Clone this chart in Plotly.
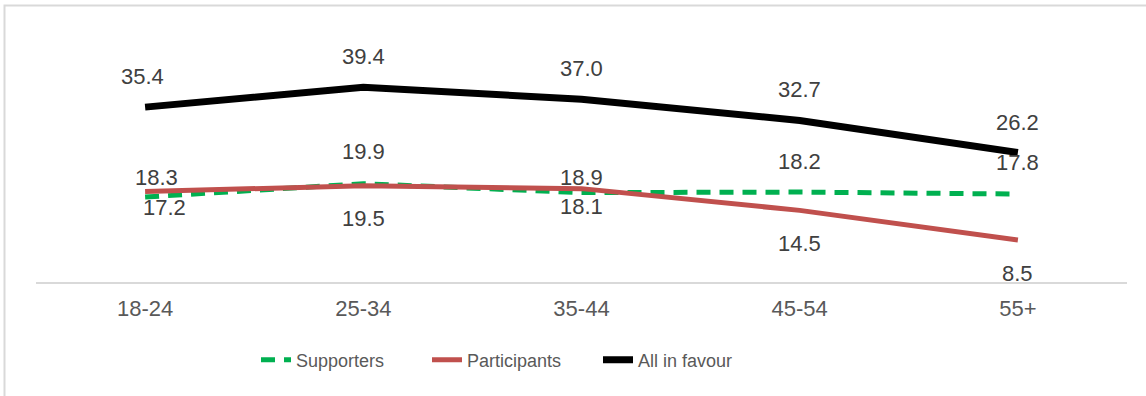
import plotly.graph_objects as go

categories = ["18-24", "25-34", "35-44", "45-54", "55+"]
supporters = [17.2, 19.9, 18.1, 18.2, 17.8]
participants = [18.3, 19.5, 18.9, 14.5, 8.5]
all_in_favour = [35.4, 39.4, 37.0, 32.7, 26.2]

# label offsets (pixels): (xshift, yshift)
sup_off = [(19, -10), (0, 32), (0, -14), (0, 31), (0, 32)]
par_off = [(11, 14), (0, -33), (0, 11), (0, -33), (0, -33)]
all_off = [(-3, 31), (0, 31), (0, 31), (0, 31), (0, 30)]

GREEN = "#00B050"
RED = "#C0504D"
BLACK = "#000000"
LABEL = "#404040"
TICK = "#595959"
FONT = "Liberation Sans, Arial, sans-serif"

fig = go.Figure()
fig.add_trace(go.Scatter(x=categories, y=supporters, mode="lines", name="Supporters",
                         line=dict(color=GREEN, width=5, dash="14px,9px")))
fig.add_trace(go.Scatter(x=categories, y=participants, mode="lines", name="Participants",
                         line=dict(color=RED, width=5)))
fig.add_trace(go.Scatter(x=categories, y=all_in_favour, mode="lines", name="All in favour",
                         line=dict(color=BLACK, width=7)))

anns = []
for vals, offs in ((supporters, sup_off), (participants, par_off), (all_in_favour, all_off)):
    for c, v, (dx, dy) in zip(categories, vals, offs):
        anns.append(dict(x=c, y=v, xref="x", yref="y", text=f"{v:.1f}", showarrow=False,
                         xshift=dx, yshift=dy,
                         font=dict(family=FONT, size=22, color=LABEL)))

L, R, T, B = 36, 19, 35, 114
W, H = 1146, 396
pw, ph = W - L - R, H - T - B

fig.update_layout(
    width=W, height=H,
    margin=dict(l=L, r=R, t=T, b=B),
    paper_bgcolor="white", plot_bgcolor="white",
    showlegend=True,
    legend=dict(orientation="h", x=(256 - L) / pw, xanchor="left", y=-(360 - 282) / ph,
                yanchor="middle", font=dict(family=FONT, size=18, color=TICK),
                entrywidth=126, entrywidthmode="pixels", bgcolor="rgba(0,0,0,0)"),
    xaxis=dict(type="category", range=[-0.5, 4.5], showgrid=False, zeroline=False,
               showline=True, linecolor="#D9D9D9", linewidth=2,
               ticks="outside", ticklen=6, tickcolor="rgba(0,0,0,0)",
               tickfont=dict(family=FONT, size=22, color=TICK), fixedrange=True),
    yaxis=dict(range=[0, 50], visible=False, showgrid=False, zeroline=False, fixedrange=True),
    annotations=anns,
    shapes=[dict(type="rect", xref="paper", yref="paper",
                 x0=(4.5 - L) / pw, x1=(1152 - L) / pw,
                 y0=-(402 - 282) / ph, y1=(282 - 5.5) / ph,
                 line=dict(color="#D9D9D9", width=2), fillcolor="rgba(0,0,0,0)", layer="below")],
)

fig.write_html("out.html")
